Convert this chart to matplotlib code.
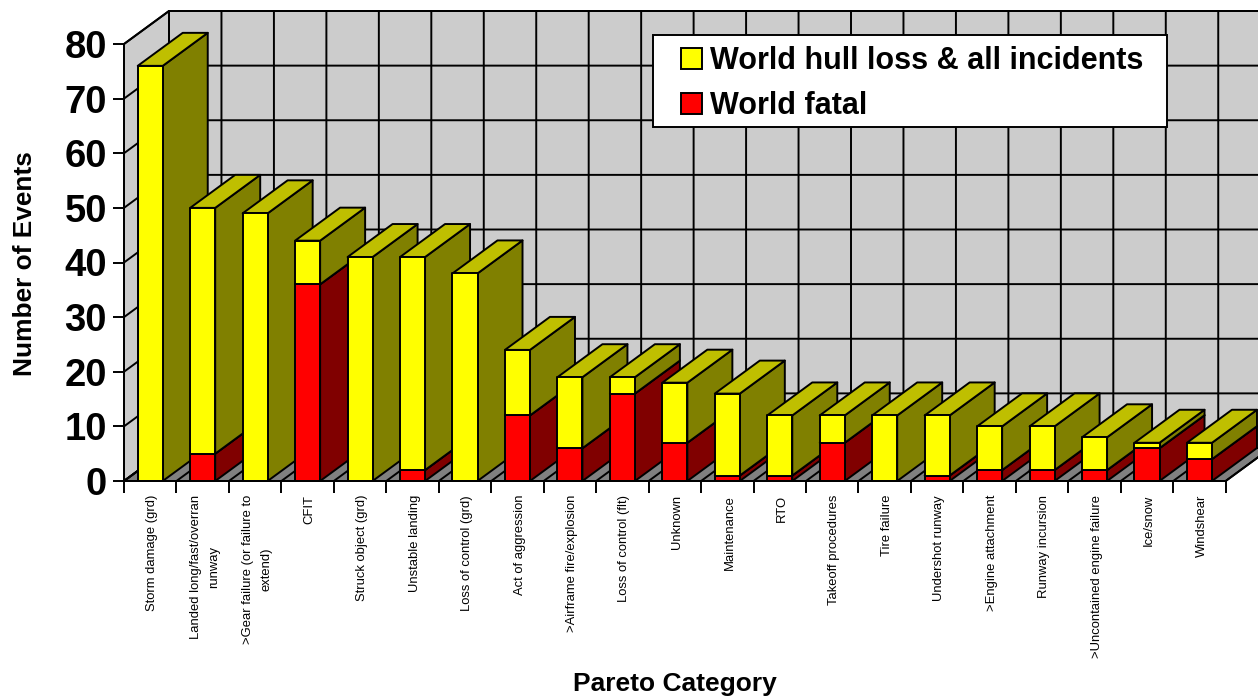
import numpy as np
import matplotlib
matplotlib.use('Agg')
import matplotlib.pyplot as plt
from matplotlib.patches import Polygon, Patch, Rectangle

plt.rcParams['font.family'] = ['Liberation Sans', 'DejaVu Sans']

categories = ['Storm damage (grd)', 'Landed long/fast/overran\nrunway', '>Gear failure (or failure to\nextend)',
              'CFIT', 'Struck object (grd)', 'Unstable landing', 'Loss of control (grd)', 'Act of aggression',
              '>Airframe fire/explosion', 'Loss of control (flt)', 'Unknown', 'Maintenance', 'RTO',
              'Takeoff procedures', 'Tire failure', 'Undershot runway', '>Engine attachment', 'Runway incursion',
              '>Uncontained engine failure', 'Ice/snow', 'Windshear']
world_fatal = [0, 5, 0, 36, 0, 2, 0, 12, 6, 16, 7, 1, 1, 7, 0, 1, 2, 2, 2, 6, 4]
world_hull = [76, 45, 49, 8, 41, 39, 38, 12, 13, 3, 11, 15, 11, 5, 12, 11, 8, 8, 6, 1, 3]
y_ticks = [0, 10, 20, 30, 40, 50, 60, 70, 80]

W, H = 1258, 697
x0, x1 = 124, 1225.7   # front plane in pixels
y0, y1 = 481, 44

# depth of the 3d box in data units
n = len(categories)
dx = 45 / ((x1 - x0) / n)
dy = 33 / ((y0 - y1) / 80)
bar_w = 0.477
lw = 1.4

fig = plt.figure(figsize=(W / 100, H / 100), dpi=100)
ax = fig.add_axes([x0 / W, 1 - y0 / H, (x1 - x0) / W, (y0 - y1) / H])
ax.set_xlim(0, n)
ax.set_ylim(0, 80)
ax.patch.set_visible(False)
for s in ['top', 'right']:
    ax.spines[s].set_visible(False)
for s in ['left', 'bottom']:
    ax.spines[s].set_linewidth(lw)


def poly(pts, color, z):
    ax.add_patch(Polygon(pts, closed=True, facecolor=color, edgecolor='black', linewidth=lw,
                         joinstyle='round', clip_on=False, zorder=z))


# walls and floor
poly([(0, 0), (dx, dy), (dx, 80 + dy), (0, 80)], '#CCCCCC', 0.5)
poly([(dx, dy), (n + dx, dy), (n + dx, 80 + dy), (dx, 80 + dy)], '#CCCCCC', 0.5)
poly([(0, 0), (n, 0), (n + dx, dy), (dx, dy)], '#808080', 0.5)
for v in y_ticks:
    ax.plot([0, dx, n + dx], [v, v + dy, v + dy], color='black', lw=lw, clip_on=False, zorder=0.8)
for i in range(n + 1):
    ax.plot([i, i + dx, i + dx], [0, dy, 80 + dy], color='black', lw=lw, clip_on=False, zorder=0.8)


def box(left, bottom, top, front, side, roof, z):
    right = left + bar_w
    poly([(right, bottom), (right + dx, bottom + dy), (right + dx, top + dy), (right, top)], side, z)
    poly([(left, top), (right, top), (right + dx, top + dy), (left + dx, top + dy)], roof, z)
    poly([(left, bottom), (right, bottom), (right, top), (left, top)], front, z)


for i in range(n):
    left = i + (1 - bar_w) / 2
    if world_fatal[i] > 0:
        box(left, 0, world_fatal[i], '#FF0000', '#800000', '#BF0000', 2 + i * 0.01)
    box(left, world_fatal[i], world_fatal[i] + world_hull[i], '#FFFF00', '#808000', '#BFBF00', 2 + i * 0.01 + 0.005)

ax.set_yticks(y_ticks)
ax.set_yticklabels([str(v) for v in y_ticks], fontsize=27.5, fontweight='bold')
ax.tick_params(axis='y', length=8, width=lw, pad=4.2)
ax.set_xticks(np.arange(n + 1))
ax.set_xticklabels([])
ax.tick_params(axis='x', which='major', length=8.5, width=lw)
# rotated labels sit a little left of centre, nudge them back
ax.set_xticks(np.arange(n) + 0.54, minor=True)
ax.set_xticklabels(categories, minor=True, rotation=90, fontsize=9.35, va='top', ha='center',
                   multialignment='center', linespacing=1.65)
ax.tick_params(axis='x', which='minor', length=0, pad=10)

fig.text(25 / W, 1 - 264 / H, 'Number of Events', rotation=90, fontsize=18.9, fontweight='bold',
         ha='center', va='center')
fig.text(675 / W, 1 - 684 / H, 'Pareto Category', fontsize=19, fontweight='bold', ha='center', va='center')

# legend box is wider than it is tall relative to its text, so the frame is separate
ax.add_patch(Rectangle((653 / W, 1 - 127 / H), 514 / W, 92 / H, transform=fig.transFigure, facecolor='white',
                       edgecolor='black', linewidth=lw, clip_on=False, zorder=9))
handles = [Patch(facecolor='#FFFF00', edgecolor='black', linewidth=lw),
           Patch(facecolor='#FF0000', edgecolor='black', linewidth=lw)]
leg = ax.legend(handles, ['World hull loss & all incidents', 'World fatal'],
                loc='upper left', bbox_to_anchor=(681 / W, 1 - 46.3 / H), bbox_transform=fig.transFigure,
                borderaxespad=0, frameon=False,
                prop={'size': 22, 'weight': 'bold'}, handlelength=0.68, handleheight=0.68,
                handletextpad=0.27, borderpad=0, labelspacing=0.48)
leg.set_zorder(10)

fig.savefig('out.png', dpi=100)
